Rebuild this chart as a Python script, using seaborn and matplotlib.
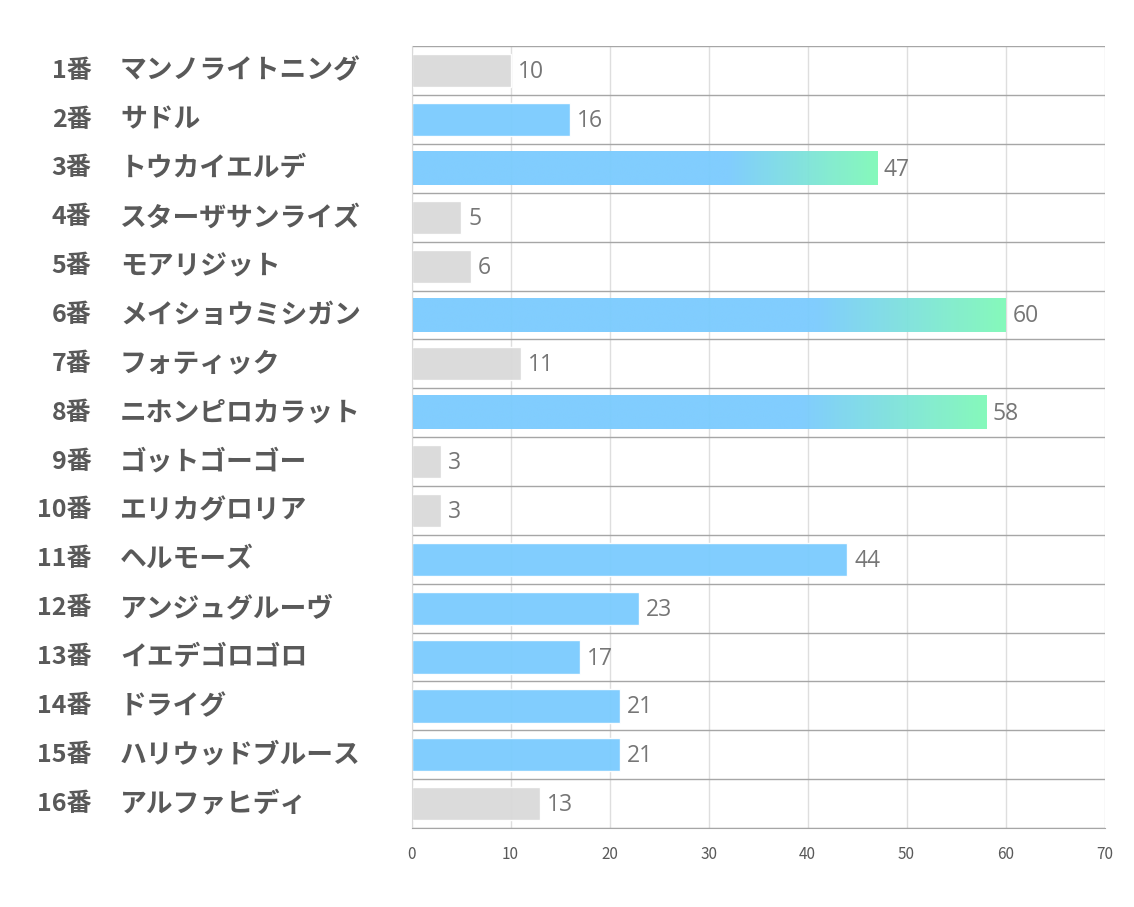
import numpy as np
import pandas as pd
import seaborn as sns
import matplotlib.pyplot as plt
import matplotlib.transforms as mtransforms
from matplotlib.colors import LinearSegmentedColormap

sns.set_style("white")
plt.rcParams['font.family'] = ['Noto Sans CJK JP', 'DejaVu Sans']

numbers = ['1番', '2番', '3番', '4番', '5番', '6番', '7番', '8番',
           '9番', '10番', '11番', '12番', '13番', '14番', '15番', '16番']
names = ['マンノライトニング', 'サドル', 'トウカイエルデ', 'スターザサンライズ',
         'モアリジット', 'メイショウミシガン', 'フォティック', 'ニホンピロカラット',
         'ゴットゴーゴー', 'エリカグロリア', 'ヘルモーズ', 'アンジュグルーヴ',
         'イエデゴロゴロ', 'ドライグ', 'ハリウッドブルース', 'アルファヒディ']
values = [10, 16, 47, 5, 6, 60, 11, 58, 3, 3, 44, 23, 17, 21, 21, 13]
# 0 = grey, 1 = blue, 2 = blue->green gradient
kind = [0, 1, 2, 0, 0, 2, 0, 2, 0, 0, 1, 1, 1, 1, 1, 0]

df = pd.DataFrame({'label': [n + s for n, s in zip(numbers, names)],
                   'value': values, 'kind': kind})

GREY = '#D9D9D9'
BLUE = '#7ACBFE'
GREEN = '#80F9B8'
palette = {lab: (GREY if k == 0 else BLUE) for lab, k in zip(df['label'], df['kind'])}

fig, ax = plt.subplots(figsize=(11.34, 9.07), dpi=100)
fig.subplots_adjust(left=0.363, right=0.974, top=0.949, bottom=0.087)

sns.barplot(data=df, x='value', y='label', hue='label', palette=palette,
            orient='h', width=0.68, legend=False, ax=ax, saturation=1, alpha=0.95)

# gradient on the top three bars (blue until ~68% of the bar, then to green)
cmap = LinearSegmentedColormap.from_list('bg', [BLUE, GREEN], N=256)
t = np.linspace(0, 1, 256).reshape(1, -1)
grad = np.clip((t - 0.68) / 0.32, 0, 1)
for patch, k in zip(ax.patches, df['kind']):
    if k == 2:
        x0, y0 = patch.get_x(), patch.get_y()
        w, h = patch.get_width(), patch.get_height()
        ax.imshow(grad, cmap=cmap, vmin=0, vmax=1, aspect='auto',
                  extent=(x0, x0 + w, y0 + h, y0), zorder=patch.get_zorder() + 0.1,
                  alpha=0.95, interpolation='bilinear')
        patch.set_alpha(0)

# value labels
for patch, v in zip(ax.patches, df['value']):
    ax.text(patch.get_x() + patch.get_width() + 0.7, patch.get_y() + patch.get_height() / 2 + 0.03,
            str(v), va='center', ha='left', fontsize=16.5, color='#767676',
            family=['Open Sans', 'DejaVu Sans'])

ax.set_xlim(0, 70)
ax.set_ylim(15.5, -0.5)
ax.set_xticks(np.arange(0, 71, 10))
ax.set_xlabel('')
ax.set_ylabel('')
ax.set_yticks([])
ax.set_yticks(np.arange(-0.5, 16, 1), minor=True)
ax.tick_params(axis='y', which='minor', length=0)
ax.grid(axis='x', which='major', color='#DEDEDE', linewidth=1)
ax.grid(axis='y', which='minor', color='#A6A6A6', linewidth=1)
ax.set_axisbelow(True)
ax.tick_params(axis='x', length=5, color='#D9D9D9', labelsize=11,
               labelcolor='#595959', pad=8)
for sp in ['top', 'right']:
    ax.spines[sp].set_visible(False)
ax.spines['left'].set_color('#D9D9D9')
ax.spines['bottom'].set_color('#A6A6A6')

trans = mtransforms.blended_transform_factory(ax.transAxes, ax.transData)
for i, (n, s) in enumerate(zip(numbers, names)):
    ax.text(-0.462, i, n, transform=trans, ha='right', va='center',
            fontsize=18, fontweight='bold', color='#595959')
    ax.text(-0.421, i, s, transform=trans, ha='left', va='center',
            fontsize=19.3, fontweight='bold', color='#595959')

fig.savefig('out.png', dpi=100)
